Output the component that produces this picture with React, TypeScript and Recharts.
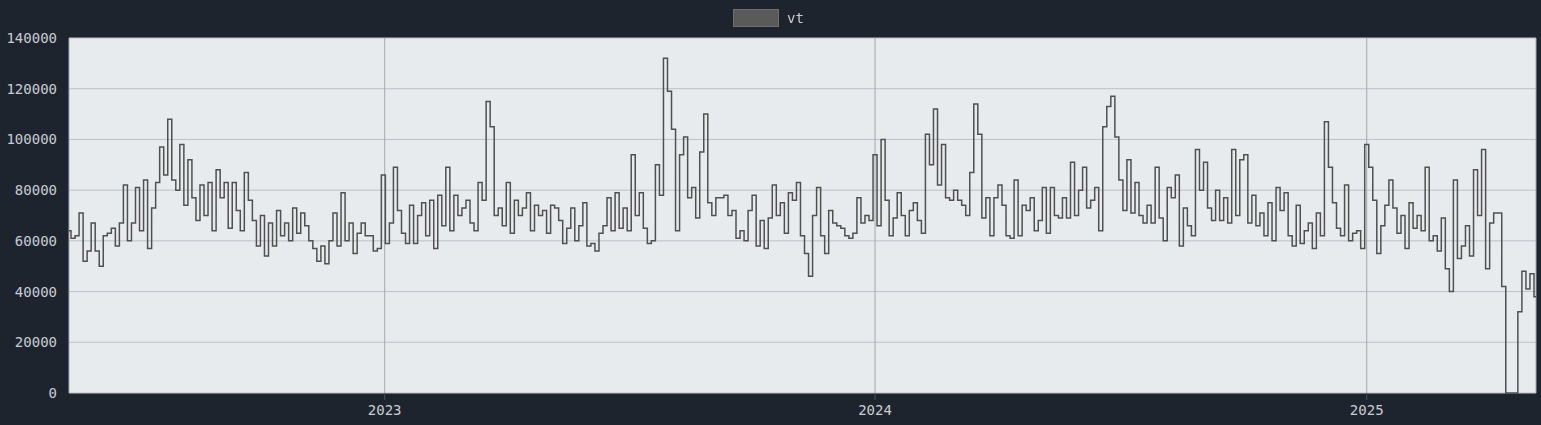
import React from "react";
import {
	LineChart,
	Line,
	XAxis,
	YAxis,
	CartesianGrid,
	Legend,
} from "recharts";

// vt, in thousands, one reading every 3 days from 2022-05-11
const vtThousands: number[] = [
	64, 61, 62, 71, 52, 56, 67, 56, 50, 62,
	63, 65, 58, 67, 82, 60, 67, 81, 64, 84,
	57, 73, 83, 97, 86, 108, 84, 80, 98, 74,
	92, 77, 68, 82, 70, 83, 64, 88, 77, 83,
	65, 83, 72, 64, 87, 76, 68, 58, 70, 54,
	67, 58, 72, 62, 67, 60, 73, 63, 71, 66,
	60, 57, 52, 58, 51, 60, 71, 58, 79, 60,
	67, 55, 63, 67, 62, 62, 56, 57, 86, 59,
	67, 89, 72, 63, 59, 74, 59, 70, 75, 62,
	76, 57, 78, 66, 89, 64, 78, 70, 73, 76,
	67, 64, 83, 76, 115, 105, 70, 73, 66, 83,
	63, 76, 70, 73, 79, 64, 74, 70, 72, 63,
	74, 73, 68, 59, 65, 73, 60, 66, 75, 58,
	59, 56, 63, 66, 77, 64, 79, 65, 73, 64,
	94, 70, 79, 65, 59, 60, 90, 78, 132, 119,
	104, 64, 94, 101, 77, 81, 69, 95, 110, 75,
	70, 77, 77, 78, 70, 72, 61, 64, 60, 72,
	78, 58, 68, 57, 69, 82, 70, 75, 63, 79,
	76, 83, 62, 55, 46, 70, 81, 62, 55, 72,
	67, 66, 65, 62, 61, 63, 77, 67, 70, 68,
	94, 66, 100, 76, 62, 69, 79, 70, 62, 72,
	75, 68, 63, 102, 90, 112, 82, 98, 77, 76,
	80, 76, 74, 70, 87, 114, 102, 69, 77, 62,
	77, 82, 74, 62, 61, 84, 62, 74, 72, 77,
	64, 68, 81, 63, 81, 70, 69, 77, 69, 91,
	70, 80, 89, 73, 76, 81, 64, 105, 113, 117,
	101, 84, 72, 92, 71, 83, 70, 67, 74, 67,
	89, 69, 60, 81, 77, 86, 58, 73, 66, 62,
	96, 80, 91, 73, 68, 80, 68, 77, 67, 96,
	70, 92, 94, 67, 78, 66, 71, 62, 75, 60,
	81, 72, 79, 62, 58, 74, 59, 64, 67, 57,
	71, 62, 107, 89, 75, 65, 62, 82, 60, 63,
	64, 57, 98, 89, 76, 55, 66, 74, 84, 73,
	63, 70, 57, 75, 65, 70, 64, 89, 60, 62,
	56, 69, 49, 40, 84, 53, 58, 66, 54, 88,
	70, 96, 49, 67, 71, 71, 42, 0, 0, 0,
	32, 48, 41, 47, 38,
];

const DAY = 86400000;
const START = Date.UTC(2022, 4, 11);
const STEP_DAYS = 3;

const yearTicks = [Date.UTC(2023, 0, 1), Date.UTC(2024, 0, 1), Date.UTC(2025, 0, 1)];
const valueTicks = [0, 20000, 40000, 60000, 80000, 100000, 120000, 140000];

const chartData = vtThousands.map((v, i) => ({
	t: START + i * STEP_DAYS * DAY,
	vt: v * 1000,
}));

const END = chartData[chartData.length - 1].t;

const FONT = '"DejaVu Sans Mono", monospace';
const TEXT = "#c9cdd3";

const renderLegend = () => (
	<div
		style={{
			display: "flex",
			justifyContent: "center",
			alignItems: "center",
			fontFamily: FONT,
			fontSize: 14,
			color: TEXT,
			marginLeft: -4,
		}}
	>
		<span
			style={{
				display: "inline-block",
				width: 44,
				height: 16,
				background: "#5a5a5a",
				border: "1px solid #6e6e6e",
				marginRight: 8,
			}}
		/>
		<span>vt</span>
	</div>
);

export default function App() {
	return (
		<div
			style={{
				position: "fixed",
				left: 0,
				top: 0,
				width: 1541,
				height: 425,
				background: "#1e242e",
			}}
		>
			<LineChart
				width={1541}
				height={425}
				data={chartData}
				margin={{ top: 38, right: 5, bottom: 0, left: 0 }}
			>
				<CartesianGrid fill="#e8ebee" stroke="#bcc0c5" vertical={false} />
				<CartesianGrid stroke="#a4a8ad" horizontal={false} />
				<Legend
					verticalAlign="middle"
					align="center"
					wrapperStyle={{ top: 9, left: 0, width: 1541 }}
					content={renderLegend}
				/>
				<XAxis
					dataKey="t"
					type="number"
					domain={[START, END]}
					ticks={yearTicks}
					tickFormatter={(t: number) => String(new Date(t).getUTCFullYear())}
					height={32}
					axisLine={false}
					tickLine={{ stroke: "#4a505a" }}
					tickSize={7}
					tickMargin={5}
					tick={{ fill: TEXT, fontSize: 14, fontFamily: FONT }}
					allowDataOverflow
				/>
				<YAxis
					domain={[0, 140000]}
					ticks={valueTicks}
					width={69}
					axisLine={false}
					tickLine={false}
					tickSize={10}
					tickMargin={2}
					tick={{ fill: TEXT, fontSize: 14, fontFamily: FONT }}
					interval={0}
				/>
				<Line
					type="step"
					dataKey="vt"
					stroke="#505050"
					strokeWidth={1.5}
					dot={false}
					isAnimationActive={false}
				/>
			</LineChart>
		</div>
	);
}
